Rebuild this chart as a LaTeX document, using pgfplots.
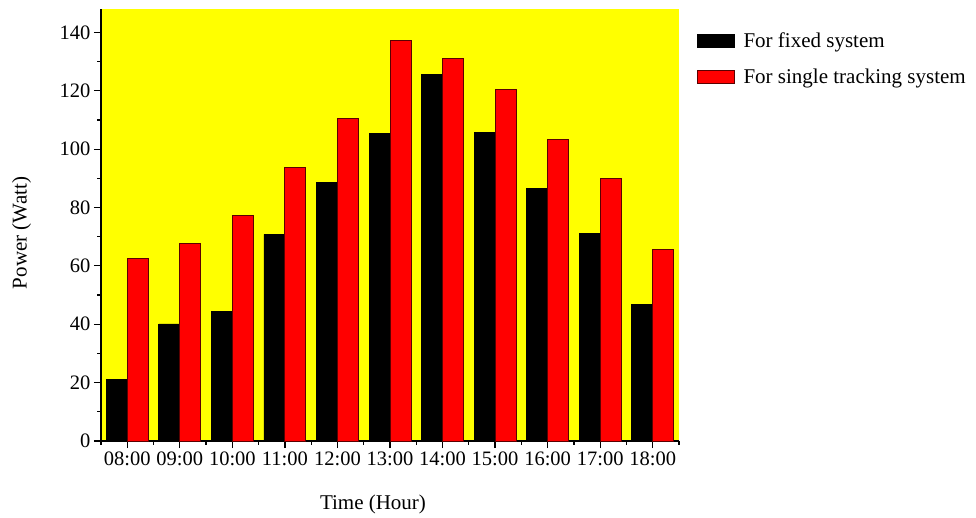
\documentclass[border=0pt]{standalone}
\usepackage{fontspec}
\setmainfont{Liberation Serif}
\usepackage{pgfplots}
\pgfplotsset{compat=1.18}
\definecolor{myyellow}{RGB}{255,255,0}
\definecolor{myred}{RGB}{255,0,0}
\definecolor{edgered}{RGB}{90,0,0}
\begin{document}
\begin{tikzpicture}
\begin{axis}[
  name=ax,
  scale only axis,
  width=578pt, height=432pt,
  ybar=0pt, bar width=21pt,
  xmin=-0.5, xmax=10.5,
  ymin=0, ymax=148,
  axis x line*=bottom, axis y line*=left,
  axis line style={line width=1.3pt,-},
  axis background/.style={fill=myyellow},
  xtick={0,...,10},
  xticklabels={08:00,09:00,10:00,11:00,12:00,13:00,14:00,15:00,16:00,17:00,18:00},
  minor xtick={-0.5,0.5,...,10.5},
  ytick={0,20,...,140},
  minor ytick={10,30,...,130},
  tick align=outside,
  major tick length=7pt, minor tick length=3.5pt,
  every tick/.style={black, line width=1.2pt},
  /pgf/number format/assume math mode=true,
  ticklabel style={font=\fontsize{20.5}{24}\selectfont},
  label style={font=\fontsize{21}{25}\selectfont},
  xlabel={Time (Hour)},
  ylabel={Power (Watt)},
  xlabel style={at={(axis description cs:0.4706,-0.1458)}, anchor=center},
  ylabel style={at={(axis description cs:-0.1372,0.4815)}, anchor=center},
  legend style={draw=none, fill=none, at={(axis description cs:1.030,0.951)}, anchor=north west,
    font=\fontsize{21}{25}\selectfont, row sep=16.5pt, inner sep=0pt,
    /tikz/every odd column/.append style={column sep=7pt},
    legend cell align=left},
  legend image code/.code={\draw[#1] (0pt,-6.5pt) rectangle (37pt,6.5pt);},
]
\addplot[fill=black, draw=black, line width=0.8pt] coordinates {
 (0,21.0) (1,40.1) (2,44.5) (3,70.8) (4,88.5) (5,105.4) (6,125.6) (7,105.8) (8,86.6) (9,71.1) (10,46.7)};
\addplot[fill=myred, draw=edgered, line width=1pt] coordinates {
 (0,62.4) (1,67.6) (2,77.3) (3,93.8) (4,110.6) (5,137.3) (6,131.0) (7,120.5) (8,103.2) (9,90.0) (10,65.5)};
\legend{For fixed system, For single tracking system}
\end{axis}
\pgfresetboundingbox
\path[use as bounding box] ([xshift=-101pt,yshift=-76pt]ax.south west) rectangle ++(976pt,517pt);
\end{tikzpicture}
\end{document}
